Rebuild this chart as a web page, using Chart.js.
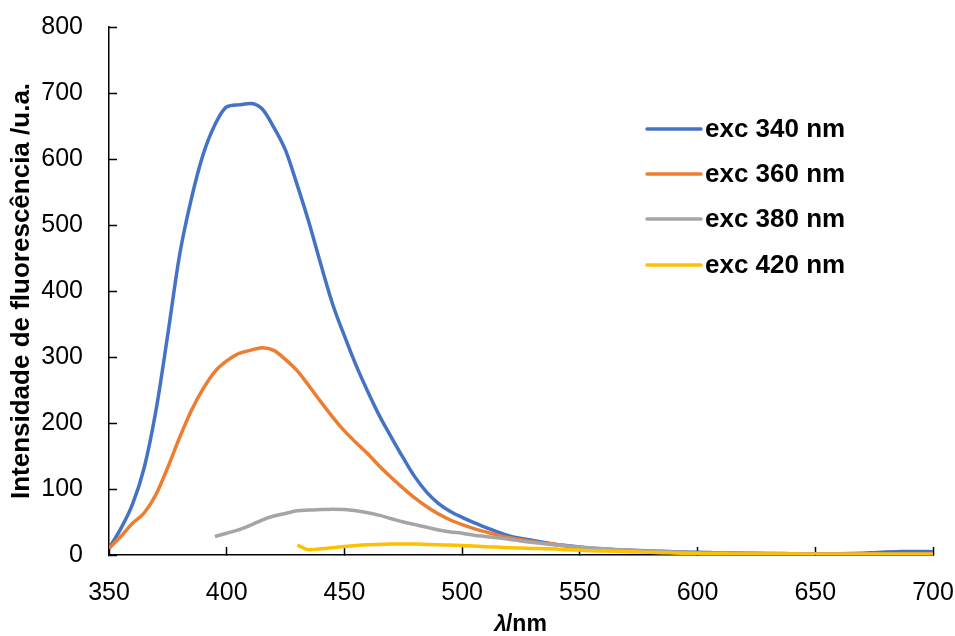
<!DOCTYPE html>
<html lang="pt">
<head>
<meta charset="utf-8">
<title>Espectros de fluorescência</title>
<script src="https://cdn.jsdelivr.net/npm/chart.js@4.4.1/dist/chart.umd.min.js"></script>
<style>
  html, body { margin: 0; padding: 0; background: #ffffff; }
  #wrap { position: relative; width: 955px; height: 636px; }
</style>
</head>
<body>
<div id="wrap"><canvas id="chart" width="955" height="636"></canvas></div>
<script>
// Emission wavelengths (nm)
const wavelengths = [
  350, 355, 360, 365, 370, 375, 380, 385, 390, 395,
  400, 405, 410, 415, 420, 425, 430, 435, 440, 445,
  450, 455, 460, 465, 470, 475, 480, 485, 490, 495,
  500, 505, 510, 515, 520, 525, 530, 535, 540, 545,
  550, 555, 560, 565, 570, 575, 580, 585, 590, 595,
  600, 605, 610, 615, 620, 625, 630, 635, 640, 645,
  650, 655, 660, 665, 670, 675, 680, 685, 690, 695,
  700
];

// Fluorescence intensity (a.u.) for each excitation wavelength
const exc340 = [
  10, 40, 77, 133, 220, 335, 455, 540, 607, 652,
  679, 682, 684, 676, 648, 613, 560, 503, 440, 380,
  332, 287, 247, 210, 178, 147, 118, 95, 78, 66,
  57, 49, 42, 35, 29, 25, 22, 19, 16, 14,
  12, 10, 9, 8, 7.5, 7, 6, 5.5, 5, 4.5,
  4, 3.6, 3.2, 3, 2.8, 2.6, 2.4, 2.2, 2, 2,
  1.8, 1.8, 1.9, 2.2, 2.8, 3.6, 4.4, 5, 5.4, 5.4,
  5
];
const exc360 = [
  10, 28, 48, 64, 92, 133, 178, 219, 252, 278,
  294, 305, 310, 314, 310, 296, 279, 256, 232, 209,
  188, 170, 153, 134, 117, 101, 86, 73, 62, 53,
  46, 40, 35, 30, 26, 23, 20, 18, 16, 13,
  11, 10, 9, 8, 7, 6, 5, 4.5, 4, 3.5,
  3, 2.8, 2.6, 2.4, 2.2, 2, 2, 1.9, 1.8, 1.8,
  1.7, 1.7, 1.6, 1.6, 1.6, 1.5, 1.5, 1.5, 1.5, 1.5,
  1.5
];
const exc380 = [
  null, null, null, null, null, null, null, null, null, 28,
  33, 38, 45, 53, 59, 63, 67, 68, 69, 69.5,
  69, 67, 64, 60, 55, 50, 46, 42, 38, 35,
  33, 30, 28, 26, 24, 21, 19, 17, 15, 13.5,
  12, 11, 9.5, 8.5, 7.5, 6.5, 5.5, 5, 4.5, 4,
  3.5, 3.2, 3, 2.8, 2.6, 2.4, 2.2, 2, 1.9, 1.8,
  1.7, 1.6, 1.5, 1.5, 1.4, 1.4, 1.3, 1.3, 1.3, 1.2,
  1.2
];
const exc420 = [
  null, null, null, null, null, null, null, null, null, null,
  null, null, null, null, null, null, 15, 8, 9.5, 11,
  13, 14.5, 15.5, 16, 16.5, 16.5, 16.5, 16, 15.5, 15,
  14.5, 13.5, 12.5, 12, 11, 10.5, 10, 9.5, 9, 8,
  7.5, 6.5, 6, 5.5, 5, 4.5, 4, 3.5, 3, 2.5,
  2, 1.9, 1.8, 1.7, 1.6, 1.5, 1.5, 1.4, 1.4, 1.3,
  1.3, 1.2, 1.2, 1.2, 1.1, 1.1, 1.1, 1, 1, 1,
  1
];

const seriesLabels = ['exc 340 nm', 'exc 360 nm', 'exc 380 nm', 'exc 420 nm'];
const seriesColors = ['#4472C4', '#ED7D31', '#A5A5A5', '#FFC000'];
const seriesValues = [exc340, exc360, exc380, exc420];

const xTicks = { min: 350, max: 700, step: 50 };
const yTicks = { min: 0, max: 800, step: 100 };

const FONT = "'Liberation Sans', Arial, Helvetica, sans-serif";

function toPoints(values) {
  const pts = [];
  values.forEach((v, i) => { if (v !== null) pts.push({ x: wavelengths[i], y: v }); });
  return pts;
}

// The layout padding alone reserves the room around the plot area
function fixedBox(size, horizontal) {
  return function (scale) {
    if (horizontal) scale.height = size; else scale.width = size;
    scale.paddingTop = 0;
    scale.paddingBottom = 0;
    scale.paddingLeft = 0;
    scale.paddingRight = 0;
  };
}

// Legend drawn inside the plot, to the right
const sideLegend = {
  id: 'sideLegend',
  afterDraw(chart) {
    const ctx = chart.ctx;
    const ds = chart.data.datasets;
    const x0 = 647, x1 = 701, tx = 705;
    const rows = [129, 174, 219, 265];
    ctx.save();
    ctx.font = 'bold 26px ' + FONT;
    ctx.textBaseline = 'middle';
    ctx.textAlign = 'left';
    ds.forEach((d, i) => {
      ctx.strokeStyle = d.borderColor;
      ctx.lineWidth = 3.5;
      ctx.lineCap = 'round';
      ctx.beginPath();
      ctx.moveTo(x0, rows[i]);
      ctx.lineTo(x1, rows[i]);
      ctx.stroke();
      ctx.fillStyle = '#000000';
      ctx.fillText(d.label, tx, rows[i] + 1);
    });
    ctx.restore();
  }
};

// x-axis title with an italic lambda
const xTitle = {
  id: 'xTitle',
  afterDraw(chart) {
    const ctx = chart.ctx;
    const area = chart.chartArea;
    const cx = (area.left + area.right) / 2;
    const y = 625;
    ctx.save();
    ctx.fillStyle = '#000000';
    ctx.textBaseline = 'middle';
    ctx.textAlign = 'left';
    const fLam = 'italic bold 23px ' + FONT;
    const fRest = 'bold 23px ' + FONT;
    ctx.font = fLam;
    const wLam = ctx.measureText('λ').width;
    ctx.font = fRest;
    const wRest = ctx.measureText('/nm').width;
    const x = cx - (wLam + wRest) / 2;
    ctx.font = fLam;
    ctx.fillText('λ', x, y);
    ctx.font = fRest;
    ctx.fillText('/nm', x + wLam - 1, y);
    ctx.restore();
  }
};

new Chart(document.getElementById('chart'), {
  type: 'line',
  data: {
    datasets: seriesLabels.map((label, i) => ({
      label,
      data: toPoints(seriesValues[i]),
      borderColor: seriesColors[i],
      backgroundColor: seriesColors[i],
      borderWidth: 3.5,
      pointRadius: 0,
      fill: false,
      tension: 0.35,
      cubicInterpolationMode: 'monotone',
      order: seriesLabels.length - i
    }))
  },
  options: {
    responsive: false,
    animation: false,
    events: [],
    layout: { padding: { top: 27, right: 22, left: 0, bottom: 0 } },
    plugins: {
      legend: { display: false },
      tooltip: { enabled: false }
    },
    scales: {
      x: {
        type: 'linear',
        min: xTicks.min,
        max: xTicks.max,
        afterFit: fixedBox(81, true),
        ticks: {
          stepSize: xTicks.step,
          color: '#000000',
          padding: 31,
          maxRotation: 0,
          font: { family: FONT, size: 25 }
        },
        grid: {
          drawOnChartArea: false,
          drawTicks: true,
          tickLength: -8,
          tickColor: '#000000',
          tickWidth: 1.5
        },
        border: { display: true, color: '#000000', width: 1.5 },
        title: { display: false }
      },
      y: {
        min: yTicks.min,
        max: yTicks.max,
        afterFit: fixedBox(109, false),
        ticks: {
          stepSize: yTicks.step,
          color: '#000000',
          padding: 34,
          font: { family: FONT, size: 25 }
        },
        grid: {
          drawOnChartArea: false,
          drawTicks: true,
          tickLength: -8,
          tickColor: '#000000',
          tickWidth: 1.5
        },
        border: { display: true, color: '#000000', width: 1.5 },
        title: {
          display: true,
          text: 'Intensidade de fluorescência /u.a.',
          color: '#000000',
          font: { family: FONT, size: 26, weight: 'bold' },
          padding: { top: 6, bottom: 0 }
        }
      }
    }
  },
  plugins: [sideLegend, xTitle]
});
</script>
</body>
</html>
